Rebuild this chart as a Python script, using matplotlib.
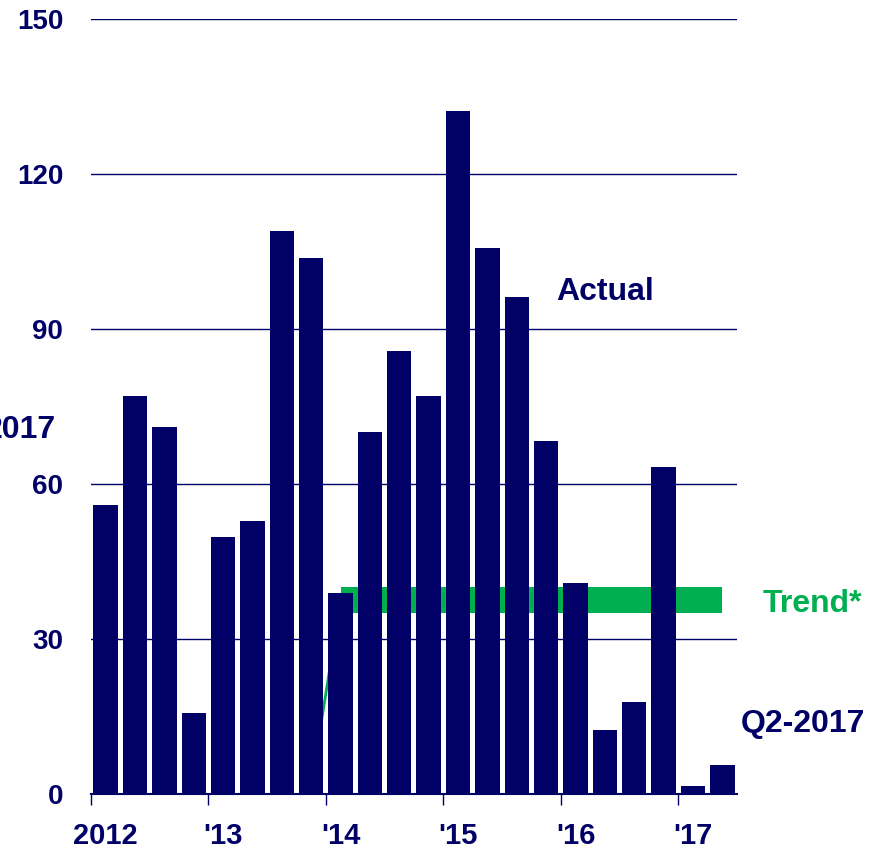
import matplotlib.pyplot as plt

plt.rcParams["font.family"] = ["Liberation Sans", "DejaVu Sans"]
plt.rcParams["font.weight"] = "bold"

navy = "#000066"
green = "#00B050"

# quarterly values, Q1-2012 .. Q2-2017
values = [56, 77, 71, 15.7, 49.7, 52.8, 109, 103.7, 38.9, 70.1, 85.7, 77,
          132.2, 105.7, 96.2, 68.3, 40.8, 12.4, 17.8, 63.3, 1.5, 5.6]
year_labels = ["2012", "'13", "'14", "'15", "'16", "'17"]
y_ticks = [0, 30, 60, 90, 120, 150]
# trend: short rising segment then a flat band
trend_x = [7.5, 8.5]
trend_y = [1.5, 37.5]
band_x = [8.5, 21.5]
band_low, band_high = 35, 40

fig = plt.figure(figsize=(8.83, 8.49), dpi=100)
ax = fig.add_axes([0.103, 0.0648, 0.7317, 0.9128])

x = [i + 0.5 for i in range(len(values))]
ax.bar(x, values, width=0.83, color=navy, zorder=3)
ax.plot(trend_x, trend_y, color=green, lw=2, zorder=2)
ax.fill_between(band_x, band_low, band_high, color=green, lw=0, zorder=2)

ax.set_xlim(0, 22)
ax.set_ylim(0, 150)
ax.set_yticks(y_ticks)
ax.set_yticklabels([str(v) for v in y_ticks])
ax.tick_params(axis="y", length=0, pad=20, labelsize=20, labelcolor=navy)
for v in y_ticks[1:]:
    ax.axhline(v, color=navy, lw=1, zorder=1)

ax.set_xticks([0, 4, 8, 12, 16, 20])
ax.set_xticklabels([])
ax.set_xticks([0.5, 4.5, 8.5, 12.5, 16.5, 20.5], minor=True)
ax.set_xticklabels(year_labels, minor=True)
ax.tick_params(axis="x", which="major", length=8, width=1, color=navy, direction="out")
ax.tick_params(axis="x", which="minor", length=0, pad=20, labelsize=21, labelcolor=navy)

for s in ["left", "right", "top"]:
    ax.spines[s].set_visible(False)
ax.spines["bottom"].set_color(navy)
ax.spines["bottom"].set_linewidth(1.5)

ax.text(17.5, 97.1, "Actual", color=navy, fontsize=23, ha="center", va="center")
ax.text(22.86, 36.8, "Trend*", color=green, fontsize=23, ha="left", va="center", clip_on=False)
ax.text(22.14, 13.5, "Q2-2017", color=navy, fontsize=23, ha="left", va="center", clip_on=False)
fig.text(56 / 883, 1 - 430 / 849, "2017", color=navy, fontsize=23, ha="right", va="center")

fig.savefig("out.png", dpi=100)
